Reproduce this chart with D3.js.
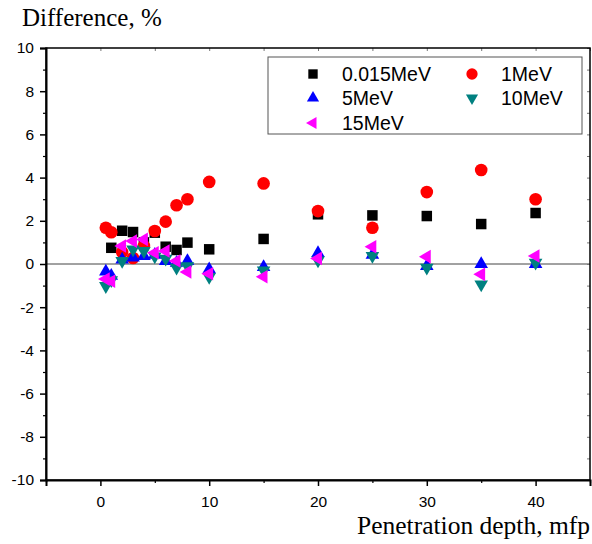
<!DOCTYPE html>
<html>
<head>
<meta charset="utf-8">
<script src="https://cdn.jsdelivr.net/npm/d3@7"></script>
<style>
  body { margin: 0; background: #fff; }
  svg { display: block; }
</style>
</head>
<body>
<div id="container"></div>
<script>

// data
var depth = [0.5, 1, 2, 3, 4, 5, 6, 7, 8, 10, 15, 20, 25, 30, 35, 40];

var diff015 = [null, 0.75, 1.54, 1.48, 1.0, 1.45, 0.8, 0.65, 0.99, 0.68, 1.16, 2.3, 2.25, 2.22, 1.85, 2.36];
var diff1 = [1.68, 1.47, 0.55, 0.28, 0.83, 1.53, 1.96, 2.72, 3.0, 3.8, 3.73, 2.45, 1.68, 3.33, 4.35, 3.0];
var diff5 = [-0.35, -0.55, 0.2, 0.3, 0.37, 0.42, 0.14, 0.05, 0.14, -0.25, -0.14, 0.5, 0.42, -0.1, 0.0, 0.0];
var diff10 = [-1.02, -0.75, 0.14, 0.68, 0.6, 0.35, 0.25, -0.17, -0.1, -0.6, -0.3, 0.17, 0.37, -0.17, -0.94, 0.06];
var diff15 = [-0.7, -0.8, 0.83, 1.06, 1.14, 0.52, 0.6, 0.14, -0.37, -0.45, -0.59, 0.26, 0.8, 0.34, -0.48, 0.37];

var seriesNames = ["0.015MeV", "1MeV", "5MeV", "10MeV", "15MeV"];
var seriesColors = ["#000000", "#ff0000", "#0000ff", "#008080", "#ff00ff"];
var seriesValues = [diff015, diff1, diff5, diff10, diff15];

var xTicks = [0, 10, 20, 30, 40];
var yTicks = [-10, -8, -6, -4, -2, 0, 2, 4, 6, 8, 10];

// parameters
var width = 592,
    height = 544,
    margin = { left: 46, top: 48, right: 2, bottom: 64 },
    plotW = width - margin.left - margin.right,
    plotH = height - margin.top - margin.bottom;

var x = d3.scaleLinear().domain([-5, 45]).range([0, plotW]);
var y = d3.scaleLinear().domain([-10, 10]).range([plotH, 0]);

var svg = d3.select("#container")
    .append("svg")
    .attr("width", width)
    .attr("height", height);

var g = svg.append("g")
    .attr("transform", "translate(" + margin.left + "," + margin.top + ")");

// zero line
g.append("line")
    .attr("x1", 0).attr("x2", plotW)
    .attr("y1", y(0)).attr("y2", y(0))
    .attr("stroke", "#444").attr("stroke-width", 1);

// inner minor ticks on top and right
var topTicks = d3.range(-5, 46, 5);
var rightTicks = d3.range(-10, 11, 1);

g.append("g")
    .call(d3.axisTop(x).tickValues(topTicks).tickSize(-3).tickFormat(""))
    .call(function (s) { s.select(".domain").remove(); })
    .selectAll("line").attr("stroke", "#777");

g.append("g")
    .attr("transform", "translate(" + plotW + ",0)")
    .call(d3.axisRight(y).tickValues(rightTicks).tickSize(-3).tickFormat(""))
    .call(function (s) { s.select(".domain").remove(); })
    .selectAll("line").attr("stroke", "#777");

// frame
g.append("rect")
    .attr("width", plotW).attr("height", plotH)
    .attr("fill", "none").attr("stroke", "#000").attr("stroke-width", 1.5);

// left axis
var yAxis = g.append("g")
    .call(d3.axisLeft(y).tickValues(yTicks).tickSize(6).tickPadding(6)
        .tickFormat(function (d) { return String(d); }));
yAxis.select(".domain").attr("stroke-width", 2);
yAxis.selectAll("line").attr("stroke-width", 1.5);
yAxis.selectAll("text")
    .attr("font-family", "Liberation Sans, Arial, sans-serif")
    .attr("font-size", 15.5).attr("fill", "#000");

g.append("g")
    .call(d3.axisLeft(y).tickValues(d3.range(-9, 10, 2)).tickSize(3).tickFormat(""))
    .call(function (s) { s.select(".domain").remove(); })
    .selectAll("line").attr("stroke-width", 1.2);

// bottom axis
var xAxis = g.append("g")
    .attr("transform", "translate(0," + plotH + ")")
    .call(d3.axisBottom(x).tickValues(xTicks).tickSize(6).tickPadding(10)
        .tickFormat(function (d) { return String(d); }));
xAxis.select(".domain").attr("stroke-width", 2);
xAxis.selectAll("line").attr("stroke-width", 1.5);
xAxis.selectAll("text")
    .attr("font-family", "Liberation Sans, Arial, sans-serif")
    .attr("font-size", 15.5).attr("fill", "#000");

g.append("g")
    .attr("transform", "translate(0," + plotH + ")")
    .call(d3.axisBottom(x).tickValues(d3.range(-5, 46, 10)).tickSize(3).tickFormat(""))
    .call(function (s) { s.select(".domain").remove(); })
    .selectAll("line").attr("stroke-width", 1.2);

// axis titles
svg.append("text")
    .attr("x", 22).attr("y", 26)
    .attr("font-family", "Liberation Serif, Times New Roman, serif")
    .attr("font-size", 25)
    .text("Difference, %");

svg.append("text")
    .attr("x", 590).attr("y", 534)
    .attr("text-anchor", "end")
    .attr("font-family", "Liberation Serif, Times New Roman, serif")
    .attr("font-size", 25.5)
    .text("Penetration depth, mfp");

// markers
var symbols = [
    { type: d3.symbolSquare, size: 110, rot: 0 },
    { type: d3.symbolCircle, size: 125, rot: 0 },
    { type: d3.symbolTriangle, size: 80, rot: 0 },
    { type: d3.symbolTriangle, size: 80, rot: 180 },
    { type: d3.symbolTriangle, size: 80, rot: -90 }
];

var points = g.append("g");

seriesValues.forEach(function (vals, i) {
    var pts = depth.map(function (d, j) { return { x: d, y: vals[j] }; })
        .filter(function (d) { return d.y !== null; });
    var sym = symbols[i];
    points.append("g")
        .selectAll("path")
        .data(pts)
        .enter()
        .append("path")
        .attr("d", d3.symbol().type(sym.type).size(sym.size))
        .attr("transform", function (d) {
            return "translate(" + x(d.x) + "," + y(d.y) + ") rotate(" + sym.rot + ")";
        })
        .attr("fill", seriesColors[i]);
});

// legend
var legend = svg.append("g").attr("transform", "translate(268,57)");

legend.append("rect")
    .attr("width", 314).attr("height", 77)
    .attr("fill", "#fff").attr("stroke", "#555").attr("stroke-width", 1);

var legendPos = [[45, 17], [204, 17], [45, 41], [204, 41], [45, 66]];

seriesNames.forEach(function (name, i) {
    var p = legendPos[i];
    var sym = symbols[i];
    legend.append("path")
        .attr("d", d3.symbol().type(sym.type).size(sym.size * 0.8))
        .attr("transform", "translate(" + p[0] + "," + p[1] + ") rotate(" + sym.rot + ")")
        .attr("fill", seriesColors[i]);
    legend.append("text")
        .attr("x", p[0] + 29).attr("y", p[1] + 7)
        .attr("font-family", "Liberation Sans, Arial, sans-serif")
        .attr("font-size", 19.5)
        .text(name);
});

</script>
</body>
</html>
